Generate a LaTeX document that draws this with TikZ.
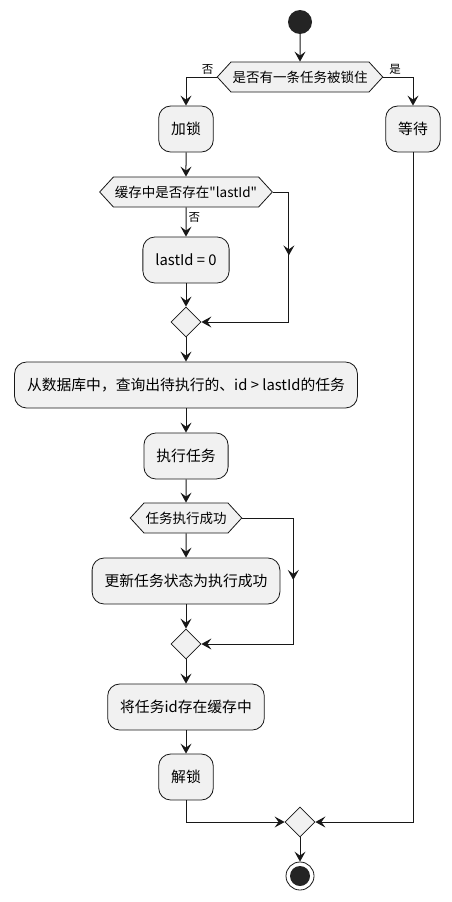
\documentclass[tikz,border=0pt]{standalone}
\usepackage{fontspec}
\newfontfamily\cjk{Noto Sans CJK SC}
\usetikzlibrary{arrows.meta,shapes,positioning,decorations.markings}
\definecolor{boxfill}{HTML}{F1F1F1}
\definecolor{ink}{HTML}{181818}

\begin{document}
\begin{tikzpicture}[node distance=2cm, auto, font=\cjk\fontsize{14.8}{17}\selectfont]
      % Define block styles
      \tikzstyle{block} = [rectangle, draw=ink, fill=boxfill, line width=0.8pt, rounded corners=12pt, minimum height=46pt, inner xsep=12.5pt, text=black]
      \tikzstyle{decision} = [signal, signal to=west and east, signal pointer angle=95, draw=ink, fill=boxfill, line width=0.8pt, minimum height=30pt, inner xsep=1.5pt, inner ysep=0pt, font=\cjk\fontsize{13.5}{16}\selectfont]
      \tikzstyle{merge} = [diamond, draw=ink, fill=boxfill, line width=0.8pt, minimum size=30pt, inner sep=0pt]
      \tikzstyle{line} = [draw=ink, line width=1pt, -{Stealth[length=10pt,width=11pt,inset=4pt]}]
      \tikzstyle{midarrow} = [postaction={decorate}, decoration={markings, mark=at position #1 with {\arrow{Stealth[length=10pt,width=11pt,inset=4pt]}}}]
      \tikzstyle{branch} = [font=\cjk\fontsize{11.5}{13}\selectfont, inner sep=2pt]

      \useasboundingbox (0,0) rectangle (452pt,-902pt);

      % Place blocks
      \node [circle, fill=ink!95, minimum size=24pt, inner sep=0pt] (start) at (300pt,-22pt) {};
      \node [decision, below of=start, node distance=55pt] (locked) {是否有一条任务被锁住};
      \node [block, below of=locked, node distance=52pt, xshift=-114pt] (lock) {加锁};
      \node [block, below of=locked, node distance=52pt, xshift=113pt] (wait) {等待};
      \node [decision, below of=lock, node distance=63pt] (cached) {缓存中是否存在"lastId"};
      \node [block, below of=cached, node distance=68pt] (zero) {lastId = 0};
      \node [merge, below of=zero, node distance=62pt] (join1) {};
      \node [block, below of=join1, node distance=63pt] (query) {从数据库中，查询出待执行的、id > lastId的任务};
      \node [block, below of=query, node distance=71pt] (exec) {执行任务};
      \node [decision, below of=exec, node distance=62pt] (success) {任务执行成功};
      \node [block, below of=success, node distance=63pt] (update) {更新任务状态为执行成功};
      \node [merge, below of=update, node distance=63pt] (join2) {};
      \node [block, below of=join2, node distance=63pt] (save) {将任务id存在缓存中};
      \node [block, below of=save, node distance=70pt] (unlock) {解锁};
      \node [merge, at={(300pt,-822pt)}] (join3) {};
      \node [circle, draw=ink, line width=0.8pt, minimum size=28pt, inner sep=0pt, below of=join3, node distance=54pt] (stop) {};
      \node [circle, fill=ink!95, minimum size=20pt, inner sep=0pt] at (stop) {};

      % Draw lines
      \path [line] (start) -- (locked);
      \path [line] (locked.west) -| node [branch, pos=0.15, above] {否} (lock);
      \path [line] (locked.east) -| node [branch, pos=0.2, above] {是} (wait);
      \path [line] (lock) -- (cached);
      \path [line] (cached) -- node [branch, pos=0.35, right] {否} (zero);
      \path [line, midarrow=0.34] (cached.east) -- ++(16pt,0) |- (join1.east);
      \path [line] (zero) -- (join1);
      \path [line] (join1) -- (query);
      \path [line] (query) -- (exec);
      \path [line] (exec) -- (success);
      \path [line] (success) -- (update);
      \path [line, midarrow=0.42] (success.east) -- ++(51pt,0) |- (join2.east);
      \path [line] (update) -- (join2);
      \path [line] (join2) -- (save);
      \path [line] (save) -- (unlock);
      \path [line] (unlock) |- (join3.west);
      \path [line] (wait) |- (join3.east);
      \path [line] (join3) -- (stop);
    \end{tikzpicture}
\end{document}
